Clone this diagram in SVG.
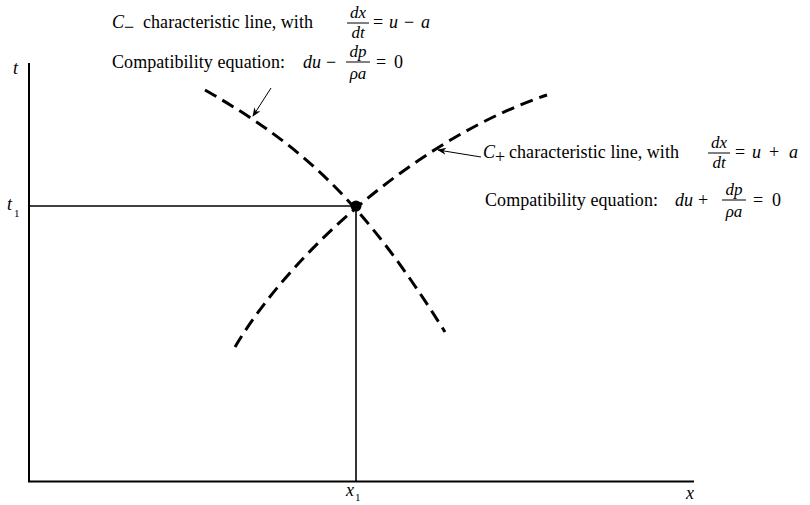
<svg xmlns="http://www.w3.org/2000/svg" width="810" height="505" viewBox="0 0 810 505">
<defs>
<marker id="ah" viewBox="0 0 10 10" refX="9" refY="5" markerWidth="9" markerHeight="9" markerUnits="userSpaceOnUse" orient="auto"><path d="M0,1 L10,5 L0,9 L3,5 Z" fill="#000"/></marker>
</defs>
<style>
text{font-family:"Liberation Serif","Times New Roman",serif;font-size:18px;fill:#000}
.i{font-style:italic}
.s{font-size:11px}
.f{font-size:17px;font-style:italic}
.ax{stroke:#000;stroke-width:2;fill:none}
.gl{stroke:#000;stroke-width:1.6;fill:none}
.ch{stroke:#000;stroke-width:3;fill:none;stroke-dasharray:13 7}
.ld{stroke:#000;stroke-width:1;fill:none}
.bar{stroke:#000;stroke-width:1}
</style>
<g id="axes">
<line class="ax" x1="29" y1="63" x2="29" y2="482"/>
<line class="ax" x1="28" y1="481.5" x2="694" y2="481.5"/>
<text class="i" x="13" y="74">t</text>
<text class="i" x="686" y="499">x</text>
</g>
<g id="guides">
<line class="gl" x1="29" y1="206" x2="356" y2="206"/>
<line class="gl" x1="356" y1="206" x2="356" y2="481"/>
<text class="i" x="7" y="210">t</text><text class="s" x="14" y="217">1</text>
<text class="i" x="346" y="496">x</text><text class="s" x="355" y="501">1</text>
</g>
<g id="connectors">
<path id="cminus" class="ch" d="M205,90 C305,147 365,204 445,332"/>
<path id="cplus" class="ch" d="M235,347 C297,243 427,135 547,95"/>
<line class="ld" x1="271" y1="88" x2="253" y2="116" marker-end="url(#ah)"/>
<line class="ld" x1="481" y1="157" x2="438" y2="150" marker-end="url(#ah)"/>
</g>
<g id="point">
<circle cx="356" cy="206" r="5.5" fill="#000"/>
</g>
<g id="label-cminus">
<text class="i" x="112" y="28">C</text><text x="124" y="33" font-size="13">−</text>
<text x="143" y="28" textLength="170" lengthAdjust="spacing">characteristic line, with</text>
<text class="f" x="358" y="18" text-anchor="middle">dx</text>
<line class="bar" x1="347" y1="23" x2="369" y2="23"/>
<text class="f" x="358" y="38" text-anchor="middle">dt</text>
<text x="373" y="28">=</text><text class="i" x="389" y="28">u</text><text x="404" y="28">−</text><text class="i" x="421" y="28">a</text>
<text x="112" y="68" textLength="173" lengthAdjust="spacing">Compatibility equation:</text>
<text class="i" x="303" y="68">du</text><text x="326" y="68">−</text>
<text class="f" x="358" y="57" text-anchor="middle">dp</text>
<line class="bar" x1="346" y1="62" x2="370" y2="62"/>
<text class="f" x="358" y="79" text-anchor="middle">ρa</text>
<text x="376" y="68">=</text><text x="394" y="68">0</text>
</g>
<g id="label-cplus">
<text class="i" x="483" y="158">C</text><text x="495" y="163" font-size="13">+</text>
<text x="509" y="158" textLength="170" lengthAdjust="spacing">characteristic line, with</text>
<text class="f" x="719" y="148" text-anchor="middle">dx</text>
<line class="bar" x1="708" y1="153" x2="730" y2="153"/>
<text class="f" x="719" y="168" text-anchor="middle">dt</text>
<text x="735" y="158">=</text><text class="i" x="752" y="158">u</text><text x="769" y="158">+</text><text class="i" x="789" y="158">a</text>
<text x="485" y="206" textLength="173" lengthAdjust="spacing">Compatibility equation:</text>
<text class="i" x="675" y="206">du</text><text x="698" y="206">+</text>
<text class="f" x="734" y="195" text-anchor="middle">dp</text>
<line class="bar" x1="722" y1="200" x2="746" y2="200"/>
<text class="f" x="734" y="217" text-anchor="middle">ρa</text>
<text x="753" y="206">=</text><text x="772" y="206">0</text>
</g>
</svg>
